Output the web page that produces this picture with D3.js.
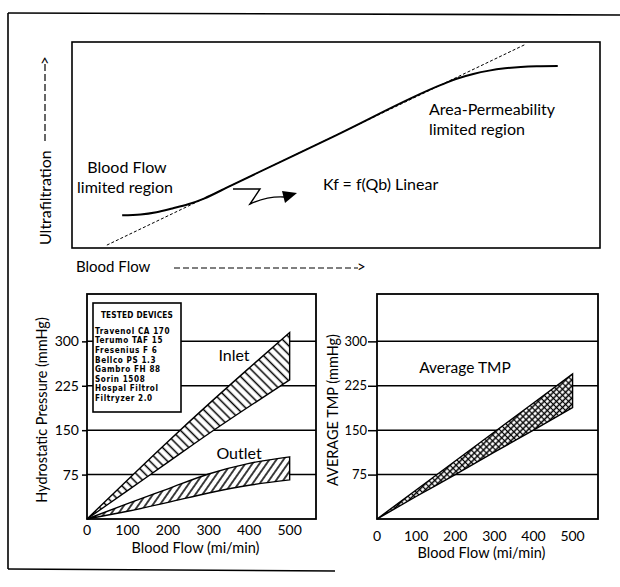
<!DOCTYPE html>
<html>
<head>
<meta charset="utf-8">
<script src="https://cdn.jsdelivr.net/npm/d3@7"></script>
<style>
  body { margin: 0; background: #fff; }
  svg { display: block; font-family: Lato, "Open Sans", sans-serif; }
</style>
</head>
<body>
<div id="chart"></div>
<script>
// --- top panel: schematic ultrafiltration vs blood flow (arbitrary units 0-100)
const ufFlow = [9.5, 13, 16, 19, 22, 25, 30, 50, 70, 73, 76, 79, 82, 85, 88, 92];
const ufRate = [15.9, 16.3, 17.4, 19.2, 21.2, 24.0, 30.2, 54.7, 79.3, 82.3, 84.5, 86.1, 87.2, 87.9, 88.2, 88.3];
const linFlow = [6.6, 86];
const linRate = [1.4, 99];

// --- bottom panels: blood flow (ml/min) vs pressure (mmHg)
const flowPts = [0, 100, 200, 300, 400, 500];
const inletUpper = [0, 66, 131, 194, 255, 315];
const inletLower = [0, 48, 96, 144, 190, 235];
const outletUpper = [0, 26, 51, 76, 94, 105];
const outletLower = [0, 13, 28, 44, 57, 66];
const tmpUpper = [0, 49, 98, 147, 196, 245];
const tmpLower = [0, 38, 75, 113, 150, 188];

const xTicks = [0, 100, 200, 300, 400, 500];
const yTicks = [75, 150, 225, 300];
const devices = ['Travenol CA 170', 'Terumo TAF 15', 'Fresenius F 6', 'Bellco PS 1.3',
  'Gambro FH 88', 'Sorin 1508', 'Hospal Filtrol', 'Filtryzer 2.0'];

const W = 620, H = 587;
const svg = d3.select('#chart').append('svg').attr('width', W).attr('height', H);
svg.append('rect').attr('width', W).attr('height', H).attr('fill', '#fff');

// hatch patterns
const defs = svg.append('defs');
function hatch(id, size, angle, cross) {
  const p = defs.append('pattern').attr('id', id)
    .attr('patternUnits', 'userSpaceOnUse')
    .attr('width', size).attr('height', size)
    .attr('patternTransform', `rotate(${angle})`);
  p.append('rect').attr('width', size).attr('height', size).attr('fill', '#fff');
  p.append('line').attr('x1', size / 2).attr('y1', 0).attr('x2', size / 2).attr('y2', size)
    .attr('stroke', '#000').attr('stroke-width', 1.5);
  if (cross) p.append('line').attr('x1', 0).attr('y1', size / 2).attr('x2', size).attr('y2', size / 2)
    .attr('stroke', '#000').attr('stroke-width', 1.2);
}
hatch('inletHatch', 6.2, -45, false);
hatch('outletHatch', 5.8, 35, false);
hatch('tmpHatch', 4.3, 45, true);

// outer frame (scan border)
const frame = svg.append('g').attr('stroke', '#000').attr('stroke-width', 1.6).attr('fill', 'none');
frame.append('line').attr('x1', 8).attr('y1', 13).attr('x2', 620).attr('y2', 15);
frame.append('line').attr('x1', 8).attr('y1', 13).attr('x2', 8).attr('y2', 569);
frame.append('line').attr('x1', 8).attr('y1', 569).attr('x2', 335).attr('y2', 571);

// ---------------- top panel
const tx = d3.scaleLinear().domain([0, 100]).range([72, 600]);
const ty = d3.scaleLinear().domain([0, 100]).range([248, 42]);
const topG = svg.append('g');
topG.append('rect').attr('x', 72).attr('y', 42).attr('width', 528).attr('height', 206)
  .attr('fill', 'none').attr('stroke', '#000').attr('stroke-width', 1.6);

topG.append('path')
  .attr('d', d3.line().x((d, i) => tx(linFlow[i])).y(d => ty(d))(linRate))
  .attr('fill', 'none').attr('stroke', '#000').attr('stroke-width', 1)
  .attr('stroke-dasharray', '3,2');
topG.append('path')
  .attr('d', d3.line().curve(d3.curveMonotoneX).x((d, i) => tx(ufFlow[i])).y(d => ty(d))(ufRate))
  .attr('fill', 'none').attr('stroke', '#000').attr('stroke-width', 2);

const ttext = (x, y, s, anchor) => topG.append('text').attr('x', x).attr('y', y).attr('dy', '0.35em')
  .attr('font-size', 16).attr('text-anchor', anchor || 'start').text(s);
ttext(127, 167, 'Blood Flow', 'middle');
ttext(125, 187, 'limited region', 'middle');
ttext(429, 109, 'Area-Permeability');
ttext(429, 129, 'limited region');
ttext(323, 184, 'Kf = f(Qb) Linear');

// zigzag arrow
topG.append('path')
  .attr('d', 'M233,189 L260,189 L250,204 Q268,196 284,197')
  .attr('fill', 'none').attr('stroke', '#000').attr('stroke-width', 1.4);
topG.append('path').attr('d', 'M282,191 L297,193 L285,203 Z').attr('fill', '#000');

// axis captions with dashed arrows
const ylab = topG.append('g').attr('transform', 'translate(45,245) rotate(-90)');
ylab.append('text').attr('dy', '0.35em').attr('font-size', 16).text('Ultrafiltration');
ylab.append('line').attr('x1', 104).attr('x2', 181).attr('stroke', '#000')
  .attr('stroke-width', 1.2).attr('stroke-dasharray', '7,3');
ylab.append('text').attr('x', 180).attr('dy', '0.35em').attr('font-size', 15).text('>');

topG.append('text').attr('x', 76).attr('y', 267).attr('dy', '0.35em').attr('font-size', 15).text('Blood Flow');
topG.append('line').attr('x1', 174).attr('x2', 358).attr('y1', 268).attr('y2', 268)
  .attr('stroke', '#000').attr('stroke-width', 1.2).attr('stroke-dasharray', '6,3');
topG.append('text').attr('x', 357).attr('y', 267).attr('dy', '0.35em').attr('font-size', 15).text('>');

// ---------------- bottom panels
function panel(x0, x1, tickLen, tickPad, tickSize, tickY, labelY, yLabel, yLabelX) {
  const x = d3.scaleLinear().domain([0, 565]).range([x0, x1]);
  const y = d3.scaleLinear().domain([0, 380]).range([519, 294]);
  const g = svg.append('g');
  const ya = g.append('g').attr('transform', `translate(${x0},0)`)
    .call(d3.axisLeft(y).tickValues(yTicks).tickSize(tickLen).tickPadding(tickPad));
  ya.select('.domain').remove();
  ya.selectAll('line').attr('stroke-width', 1.5);
  ya.selectAll('text').attr('font-size', tickSize).attr('font-family', 'Lato, sans-serif').attr('fill', '#000');
  g.append('g').selectAll('line').data(yTicks).join('line')
    .attr('x1', x0).attr('x2', x1).attr('y1', d => y(d)).attr('y2', d => y(d))
    .attr('stroke', '#000').attr('stroke-width', 1.5);
  g.append('rect').attr('x', x0).attr('y', 294).attr('width', x1 - x0).attr('height', 225)
    .attr('fill', 'none').attr('stroke', '#000').attr('stroke-width', 1.8);
  g.append('g').selectAll('text').data(xTicks).join('text')
    .attr('x', d => x(d)).attr('y', tickY).attr('dy', '0.35em').attr('text-anchor', 'middle')
    .attr('font-size', 14).text(d => d);
  g.append('text').attr('x', (x0 + x1) / 2 - 6).attr('y', labelY).attr('dy', '0.35em')
    .attr('text-anchor', 'middle').attr('font-size', 14.5).text('Blood Flow (mi/min)');
  g.append('text').attr('transform', `translate(${yLabelX},410) rotate(-90)`).attr('dy', '0.35em')
    .attr('text-anchor', 'middle').attr('font-size', 14.5).text(yLabel);
  return { x, y, g };
}

function band(p, upper, lower, fill) {
  const a = d3.area().curve(d3.curveMonotoneX)
    .x((d, i) => p.x(flowPts[i])).y0((d, i) => p.y(lower[i])).y1(d => p.y(d));
  p.g.append('path').attr('d', a(upper) + 'Z')
    .attr('fill', `url(#${fill})`).attr('stroke', '#000').attr('stroke-width', 1.4)
    .attr('stroke-linejoin', 'miter');
}

// left: hydrostatic pressure
const L = panel(87, 316, 5, 3, 14, 530, 548, 'Hydrostatic Pressure (mmHg)', 42);
band(L, inletUpper, inletLower, 'inletHatch');
band(L, outletUpper, outletLower, 'outletHatch');
L.g.append('text').attr('x', 234).attr('y', 355).attr('dy', '0.35em').attr('text-anchor', 'middle')
  .attr('font-size', 16).text('Inlet');
L.g.append('text').attr('x', 239).attr('y', 453).attr('dy', '0.35em').attr('text-anchor', 'middle')
  .attr('font-size', 16).text('Outlet');

// legend of tested devices
const legendFont = '"DejaVu Sans Condensed", "DejaVu Sans", sans-serif';
const lg = L.g.append('g');
lg.append('rect').attr('x', 93).attr('y', 303).attr('width', 88).attr('height', 109)
  .attr('fill', '#fff').attr('stroke', '#000').attr('stroke-width', 1.6);
lg.append('text').attr('x', 137).attr('y', 315).attr('dy', '0.35em').attr('text-anchor', 'middle')
  .attr('font-family', legendFont).attr('font-stretch', 'condensed')
  .attr('font-weight', 'bold').attr('font-size', 8.2).attr('letter-spacing', 0.2).text('TESTED DEVICES');
lg.selectAll('text.dev').data(devices).join('text').attr('class', 'dev')
  .attr('x', 95).attr('y', (d, i) => 331 + i * 9.6).attr('dy', '0.35em')
  .attr('font-family', legendFont).attr('font-stretch', 'condensed')
  .attr('font-weight', 'bold').attr('font-size', 8.1).attr('letter-spacing', 0.6).text(d => d);

// right: average TMP
const R = panel(377, 598, 9, 1, 13, 536, 553, 'AVERAGE TMP (mmHg)', 333);
band(R, tmpUpper, tmpLower, 'tmpHatch');
R.g.append('text').attr('x', 465).attr('y', 368).attr('dy', '0.35em').attr('text-anchor', 'middle')
  .attr('font-size', 15.5).text('Average TMP');
</script>
</body>
</html>
